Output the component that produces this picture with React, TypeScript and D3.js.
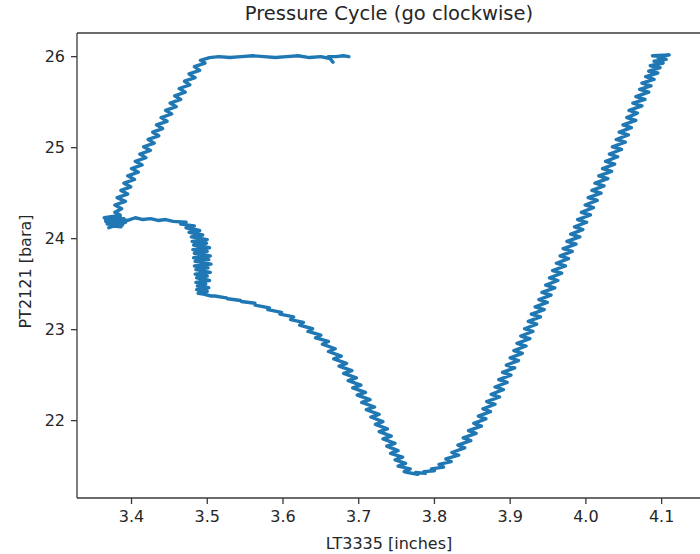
import React from "react";
import * as d3 from "d3";

type Pt = [number, number]; // [LT3335 inches, PT2121 bara]

const chartTitle = "Pressure Cycle (go clockwise)";
const xLabel = "LT3335 [inches]";
const yLabel = "PT2121 [bara]";
const xTicks = [3.4, 3.5, 3.6, 3.7, 3.8, 3.9, 4.0, 4.1];
const yTicks = [22, 23, 24, 25, 26];

// right leg: top-right down to the minimum
const rightLeg: Pt[] = [
  [4.100, 26.00], [4.088, 26.01], [4.110, 26.02], [4.095, 25.99], [4.106, 25.97], [4.090, 25.95],
  [4.102, 25.93], [4.085, 25.90], [4.098, 25.88], [4.083, 25.84], [4.095, 25.82], [4.079, 25.78],
  [4.090, 25.75], [4.074, 25.71], [4.086, 25.68], [4.071, 25.64], [4.083, 25.61], [4.066, 25.56],
  [4.078, 25.53], [4.062, 25.49], [4.074, 25.46], [4.057, 25.41], [4.068, 25.38], [4.054, 25.33],
  [4.066, 25.30], [4.049, 25.25], [4.060, 25.22], [4.044, 25.17], [4.056, 25.14], [4.040, 25.09],
  [4.052, 25.06], [4.035, 25.01], [4.047, 24.98], [4.031, 24.93], [4.042, 24.90], [4.026, 24.85],
  [4.038, 24.82], [4.022, 24.77], [4.034, 24.74], [4.017, 24.69], [4.029, 24.66], [4.012, 24.61],
  [4.024, 24.58], [4.008, 24.53], [4.020, 24.50], [4.003, 24.45], [4.015, 24.42], [3.999, 24.37],
  [4.010, 24.34], [3.994, 24.29], [4.006, 24.26], [3.989, 24.21], [4.001, 24.18], [3.985, 24.13],
  [3.996, 24.10], [3.980, 24.05], [3.992, 24.02], [3.975, 23.97], [3.987, 23.94], [3.970, 23.89],
  [3.982, 23.86], [3.966, 23.81], [3.977, 23.78], [3.961, 23.73], [3.973, 23.70], [3.956, 23.65],
  [3.968, 23.62], [3.952, 23.57], [3.963, 23.54], [3.947, 23.49], [3.959, 23.46], [3.942, 23.41],
  [3.954, 23.38], [3.938, 23.33], [3.949, 23.30], [3.933, 23.25], [3.945, 23.22], [3.928, 23.17],
  [3.940, 23.14], [3.924, 23.09], [3.935, 23.06], [3.919, 23.01], [3.930, 22.98], [3.914, 22.93],
  [3.926, 22.90], [3.909, 22.85], [3.921, 22.82], [3.905, 22.77], [3.916, 22.74], [3.900, 22.69],
  [3.911, 22.66], [3.895, 22.61], [3.906, 22.58], [3.890, 22.53], [3.901, 22.50], [3.885, 22.45],
  [3.896, 22.42], [3.880, 22.37], [3.891, 22.34], [3.875, 22.29], [3.886, 22.26], [3.869, 22.21],
  [3.880, 22.18], [3.864, 22.13], [3.874, 22.10], [3.858, 22.05], [3.868, 22.02], [3.852, 21.97],
  [3.862, 21.94], [3.845, 21.89], [3.855, 21.86], [3.838, 21.81], [3.848, 21.78], [3.831, 21.73],
  [3.840, 21.70], [3.823, 21.65], [3.832, 21.62], [3.815, 21.58], [3.822, 21.55], [3.806, 21.52],
  [3.812, 21.49], [3.796, 21.47], [3.800, 21.45], [3.786, 21.44], [3.788, 21.42], [3.775, 21.43],
  [3.778, 21.41], [3.765, 21.43],
];

// S-curve: minimum back up to the vertical step
const sCurve: Pt[] = [
  [3.760, 21.44], [3.768, 21.47], [3.752, 21.50], [3.762, 21.53], [3.748, 21.57], [3.758, 21.60],
  [3.742, 21.64], [3.752, 21.67], [3.737, 21.72], [3.748, 21.75], [3.732, 21.80], [3.743, 21.83],
  [3.727, 21.88], [3.738, 21.91], [3.722, 21.96], [3.732, 21.99], [3.716, 22.04], [3.727, 22.07],
  [3.710, 22.12], [3.721, 22.15], [3.704, 22.20], [3.715, 22.23], [3.698, 22.28], [3.709, 22.31],
  [3.692, 22.36], [3.703, 22.39], [3.686, 22.44], [3.697, 22.47], [3.680, 22.52], [3.691, 22.55],
  [3.674, 22.60], [3.684, 22.63], [3.667, 22.68], [3.677, 22.71], [3.660, 22.76], [3.669, 22.79],
  [3.652, 22.84], [3.660, 22.87], [3.643, 22.91], [3.650, 22.94], [3.633, 22.98], [3.639, 23.01],
  [3.622, 23.05], [3.627, 23.08], [3.610, 23.11], [3.614, 23.14], [3.596, 23.17], [3.598, 23.19],
  [3.580, 23.22], [3.582, 23.24], [3.563, 23.27], [3.563, 23.29], [3.545, 23.31], [3.544, 23.32],
  [3.527, 23.34], [3.525, 23.35], [3.510, 23.37], [3.505, 23.37], [3.495, 23.39],
];

// vertical step near 3.49 in
const verticalStep: Pt[] = [
  [3.488, 23.40], [3.500, 23.42], [3.486, 23.44], [3.502, 23.46], [3.487, 23.48], [3.498, 23.50],
  [3.485, 23.52], [3.503, 23.54], [3.486, 23.57], [3.500, 23.59], [3.484, 23.61], [3.504, 23.63],
  [3.485, 23.66], [3.501, 23.68], [3.483, 23.70], [3.505, 23.72], [3.484, 23.75], [3.502, 23.77],
  [3.482, 23.79], [3.504, 23.81], [3.483, 23.84], [3.500, 23.86], [3.481, 23.88], [3.503, 23.90],
  [3.482, 23.93], [3.499, 23.95], [3.480, 23.97], [3.500, 23.99], [3.479, 24.02], [3.494, 24.04],
  [3.476, 24.07], [3.490, 24.09], [3.472, 24.12], [3.483, 24.14], [3.465, 24.16], [3.472, 24.18],
  [3.455, 24.19], [3.445, 24.21], [3.435, 24.20], [3.425, 24.22], [3.415, 24.21], [3.405, 24.23],
];

// blob at the far left
const leftBlob: Pt[] = [
  [3.395, 24.20], [3.380, 24.22], [3.366, 24.19], [3.372, 24.14], [3.386, 24.13], [3.375, 24.17],
  [3.364, 24.23], [3.380, 24.25], [3.392, 24.18], [3.370, 24.12], [3.383, 24.16], [3.367, 24.21],
  [3.390, 24.22], [3.368, 24.16], [3.388, 24.15], [3.373, 24.24], [3.366, 24.20], [3.385, 24.19],
  [3.385, 24.26], [3.378, 24.29],
];

// left leg rising to 26 bara
const leftLeg: Pt[] = [
  [3.387, 24.33], [3.378, 24.37], [3.392, 24.41], [3.381, 24.45], [3.395, 24.49], [3.386, 24.53],
  [3.399, 24.57], [3.390, 24.61], [3.404, 24.65], [3.395, 24.69], [3.409, 24.73], [3.400, 24.77],
  [3.414, 24.81], [3.405, 24.85], [3.419, 24.89], [3.411, 24.93], [3.425, 24.97], [3.416, 25.01],
  [3.430, 25.05], [3.422, 25.09], [3.436, 25.13], [3.428, 25.17], [3.441, 25.21], [3.433, 25.25],
  [3.447, 25.29], [3.439, 25.33], [3.453, 25.37], [3.445, 25.41], [3.459, 25.45], [3.451, 25.49],
  [3.465, 25.53], [3.457, 25.57], [3.471, 25.61], [3.463, 25.65], [3.477, 25.69], [3.470, 25.73],
  [3.484, 25.77], [3.476, 25.81], [3.490, 25.85], [3.483, 25.89], [3.497, 25.93], [3.491, 25.96],
  [3.503, 25.99],
];

// flat run at 26 bara
const topRun: Pt[] = [
  [3.515, 26.00], [3.530, 25.99], [3.545, 26.00], [3.560, 26.01], [3.575, 26.00], [3.590, 25.99],
  [3.605, 26.00], [3.620, 26.01], [3.635, 25.99], [3.650, 26.00], [3.662, 25.98], [3.666, 25.94],
  [3.660, 26.00], [3.670, 26.00], [3.680, 26.01], [3.687, 26.00],
];

const FONT = "'DejaVu Sans', sans-serif";
const TXT = "#262626";

export default function App() {
  const left = 77, right = 701, top = 33, bottom = 498;
  const x = d3.scaleLinear().domain([3.328, 4.152]).range([left, right]);
  const y = d3.scaleLinear().domain([21.15, 26.26]).range([bottom, top]);
  const data: Pt[] = [...rightLeg, ...sCurve, ...verticalStep, ...leftBlob, ...leftLeg, ...topRun];
  const line = d3.line<Pt>().x((d) => x(d[0])).y((d) => y(d[1]));
  const tick = 6;
  const pad = 6;

  return (
    <svg width={700} height={554} style={{ position: "absolute", left: 0, top: 0, background: "#fff" }}>
      <defs>
        <clipPath id="plot">
          <rect x={left} y={top} width={right - left} height={bottom - top} />
        </clipPath>
      </defs>
      <rect x={0} y={0} width={700} height={554} fill="#fff" />
      <path
        d={line(data) || ""}
        fill="none"
        stroke="#1f77b4"
        strokeWidth={3.4}
        strokeLinejoin="round"
        strokeLinecap="round"
        clipPath="url(#plot)"
      />
      {/* spines */}
      <g stroke="#3a3a3a" strokeWidth={1.3} fill="none">
        <line x1={left} y1={top} x2={left} y2={bottom} />
        <line x1={left} y1={bottom} x2={right} y2={bottom} />
        <line x1={left} y1={top} x2={right} y2={top} />
        <line x1={right} y1={top} x2={right} y2={bottom} />
      </g>
      {/* x ticks */}
      {xTicks.map((t) => (
        <g key={"x" + t}>
          <line x1={x(t)} x2={x(t)} y1={bottom} y2={bottom + tick} stroke="#3a3a3a" strokeWidth={1.3} />
          <text
            x={x(t)}
            y={bottom + tick + pad}
            dy="0.76em"
            textAnchor="middle"
            fontFamily={FONT}
            fontSize={16}
            fill={TXT}
          >
            {t.toFixed(1)}
          </text>
        </g>
      ))}
      {/* y ticks */}
      {yTicks.map((t) => (
        <g key={"y" + t}>
          <line x1={left - tick} x2={left} y1={y(t)} y2={y(t)} stroke="#3a3a3a" strokeWidth={1.3} />
          <text
            x={left - tick - pad}
            y={y(t)}
            dy="0.36em"
            textAnchor="end"
            fontFamily={FONT}
            fontSize={16}
            fill={TXT}
          >
            {t}
          </text>
        </g>
      ))}
      <text x={(left + right) / 2} y={20} textAnchor="middle" fontFamily={FONT} fontSize={19.5} fill={TXT}>
        {chartTitle}
      </text>
      <text x={(left + right) / 2} y={549} textAnchor="middle" fontFamily={FONT} fontSize={16} fill={TXT}>
        {xLabel}
      </text>
      <text
        transform={`translate(31, ${(top + bottom) / 2 + 6}) rotate(-90)`}
        textAnchor="middle"
        fontFamily={FONT}
        fontSize={16}
        fill={TXT}
      >
        {yLabel}
      </text>
    </svg>
  );
}
